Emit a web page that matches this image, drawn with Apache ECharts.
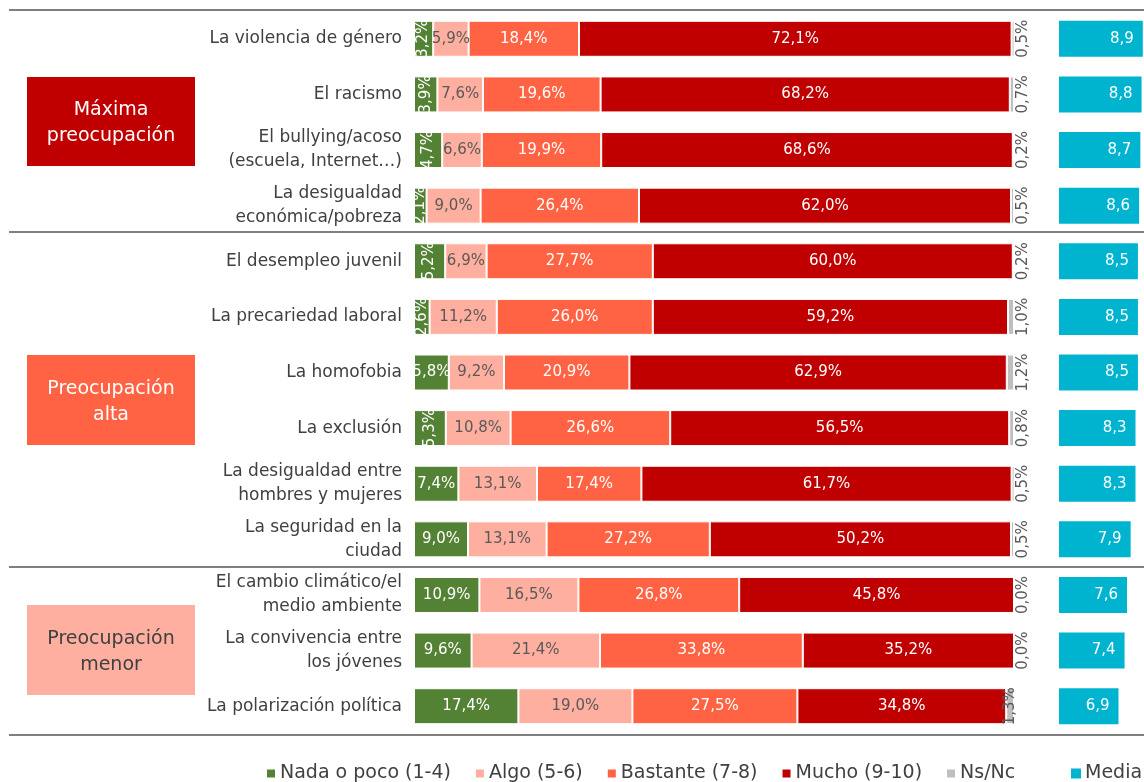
<!DOCTYPE html>
<html>
<head>
<meta charset="utf-8">
<title>Preocupaciones</title>
<script src="https://cdn.jsdelivr.net/npm/echarts@6/dist/echarts.min.js"></script>
<style>
  html, body { margin: 0; padding: 0; background: #fff; }
  #chart { width: 1144px; height: 782px; }
</style>
</head>
<body>
<div id="chart"></div>
<script>
// -- Data --
const categories = [
  'La violencia de género',
  'El racismo',
  'El bullying/acoso\n(escuela, Internet…)',
  'La desigualdad\neconómica/pobreza',
  'El desempleo juvenil',
  'La precariedad laboral',
  'La homofobia',
  'La exclusión',
  'La desigualdad entre\nhombres y mujeres',
  'La seguridad en la\nciudad',
  'El cambio climático/el\nmedio ambiente',
  'La convivencia entre\nlos jóvenes',
  'La polarización política'
];
const nada     = [3.2, 3.9, 4.7, 2.1, 5.2, 2.6, 5.8, 5.3, 7.4, 9.0, 10.9, 9.6, 17.4];
const algo     = [5.9, 7.6, 6.6, 9.0, 6.9, 11.2, 9.2, 10.8, 13.1, 13.1, 16.5, 21.4, 19.0];
const bastante = [18.4, 19.6, 19.9, 26.4, 27.7, 26.0, 20.9, 26.6, 17.4, 27.2, 26.8, 33.8, 27.5];
const mucho    = [72.1, 68.2, 68.6, 62.0, 60.0, 59.2, 62.9, 56.5, 61.7, 50.2, 45.8, 35.2, 34.8];
const nsnc     = [0.5, 0.7, 0.2, 0.5, 0.2, 1.0, 1.2, 0.8, 0.5, 0.5, 0.0, 0.0, 1.3];
const media    = [8.9, 8.8, 8.7, 8.6, 8.5, 8.5, 8.5, 8.3, 8.3, 7.9, 7.6, 7.4, 6.9];

const groups = [
  { name: 'Máxima\npreocupación', top: 77, height: 89, color: '#c00000', text: '#ffffff' },
  { name: 'Preocupación\nalta', top: 355, height: 90, color: '#ff6343', text: '#ffffff' },
  { name: 'Preocupación\nmenor', top: 605, height: 90, color: '#ffafa0', text: '#404040' }
];
const separators = [10, 232, 567, 735];

// -- Style --
const FONT = 'DejaVu Sans';
const COLORS = {
  nada: '#548235',
  algo: '#ffafa0',
  bastante: '#ff6343',
  mucho: '#c00000',
  nsnc: '#bfbfbf',
  media: '#00b4d0',
  text: '#404040'
};

const pct = v => v.toFixed(1).replace('.', ',') + '%';
const BAR_W = 36;

function stackSeries(name, data, color, labelColor, extra) {
  return Object.assign({
    name,
    type: 'bar',
    stack: 'total',
    xAxisIndex: 0,
    yAxisIndex: 0,
    barWidth: BAR_W,
    data,
    itemStyle: { color, borderColor: '#fff', borderWidth: 1 },
    label: {
      show: true,
      position: 'inside',
      color: labelColor,
      fontFamily: FONT,
      fontSize: 15,
      formatter: p => pct(p.value)
    }
  }, extra || {});
}

const chart = echarts.init(document.getElementById('chart'), null, { renderer: 'canvas' });

const graphics = [];
separators.forEach(y => {
  graphics.push({
    type: 'line',
    shape: { x1: 9, y1: y, x2: 1144, y2: y },
    style: { stroke: '#7f7f7f', lineWidth: 2 },
    silent: true
  });
});
groups.forEach(g => {
  graphics.push({
    type: 'rect',
    shape: { x: 27, y: g.top, width: 168, height: g.height },
    style: { fill: g.color },
    silent: true
  });
  graphics.push({
    type: 'text',
    x: 111,
    y: g.top + g.height / 2 + 2,
    style: {
      text: g.name,
      fill: g.text,
      font: '19px ' + FONT,
      align: 'center',
      verticalAlign: 'middle',
      lineHeight: 26
    },
    silent: true
  });
});

const legendText = { color: COLORS.text, fontSize: 19, fontFamily: FONT, padding: [0, 0, 0, -1] };

chart.setOption({
  animation: false,
  textStyle: { fontFamily: FONT },
  graphic: graphics,
  legend: [
    {
      data: ['Nada o poco (1-4)', 'Algo (5-6)', 'Bastante (7-8)', 'Mucho (9-10)', 'Ns/Nc'],
      left: 260,
      top: 759,
      icon: 'rect',
      itemWidth: 10,
      itemHeight: 10,
      itemGap: 23,
      textStyle: legendText
    },
    {
      data: ['Media'],
      left: 1066,
      top: 759,
      icon: 'rect',
      itemWidth: 10,
      itemHeight: 10,
      textStyle: legendText
    }
  ],
  grid: [
    { left: 414, width: 600, top: 11, height: 723 },
    { left: 1059, width: 86, top: 11, height: 723 }
  ],
  xAxis: [
    { type: 'value', gridIndex: 0, min: 0, max: 100, show: false },
    { type: 'value', gridIndex: 1, min: 2, max: 9, show: false }
  ],
  yAxis: [
    {
      type: 'category',
      gridIndex: 0,
      inverse: true,
      data: categories,
      axisLine: { show: false },
      axisTick: { show: false },
      axisLabel: {
        color: COLORS.text,
        fontSize: 17,
        fontFamily: FONT,
        margin: 12,
        align: 'right',
        lineHeight: 24
      }
    },
    {
      type: 'category',
      gridIndex: 1,
      inverse: true,
      data: categories,
      show: false
    }
  ],
  series: [
    stackSeries('Nada o poco (1-4)',
      nada.map(v => v < 5.5 ? { value: v, label: { rotate: 90 } } : v),
      COLORS.nada, '#ffffff'),
    stackSeries('Algo (5-6)', algo, COLORS.algo, '#595959'),
    stackSeries('Bastante (7-8)', bastante, COLORS.bastante, '#ffffff'),
    stackSeries('Mucho (9-10)', mucho, COLORS.mucho, '#ffffff'),
    stackSeries('Ns/Nc',
      nsnc.map((v, i) => i === nsnc.length - 1 ? { value: v, label: { position: 'inside' } } : v),
      COLORS.nsnc, '#595959', {
        label: {
          show: true,
          position: 'right',
          distance: 9,
          rotate: 90,
          align: 'center',
          verticalAlign: 'middle',
          color: '#595959',
          fontFamily: FONT,
          fontSize: 15,
          formatter: p => pct(p.value)
        }
      }),
    {
      name: 'Media',
      type: 'bar',
      xAxisIndex: 1,
      yAxisIndex: 1,
      barWidth: BAR_W,
      data: media,
      itemStyle: { color: COLORS.media },
      label: {
        show: true,
        position: 'insideRight',
        distance: 9,
        color: '#ffffff',
        fontFamily: FONT,
        fontSize: 15,
        formatter: p => p.value.toFixed(1).replace('.', ',')
      }
    }
  ]
});

window.addEventListener('resize', () => chart.resize());
</script>
</body>
</html>
